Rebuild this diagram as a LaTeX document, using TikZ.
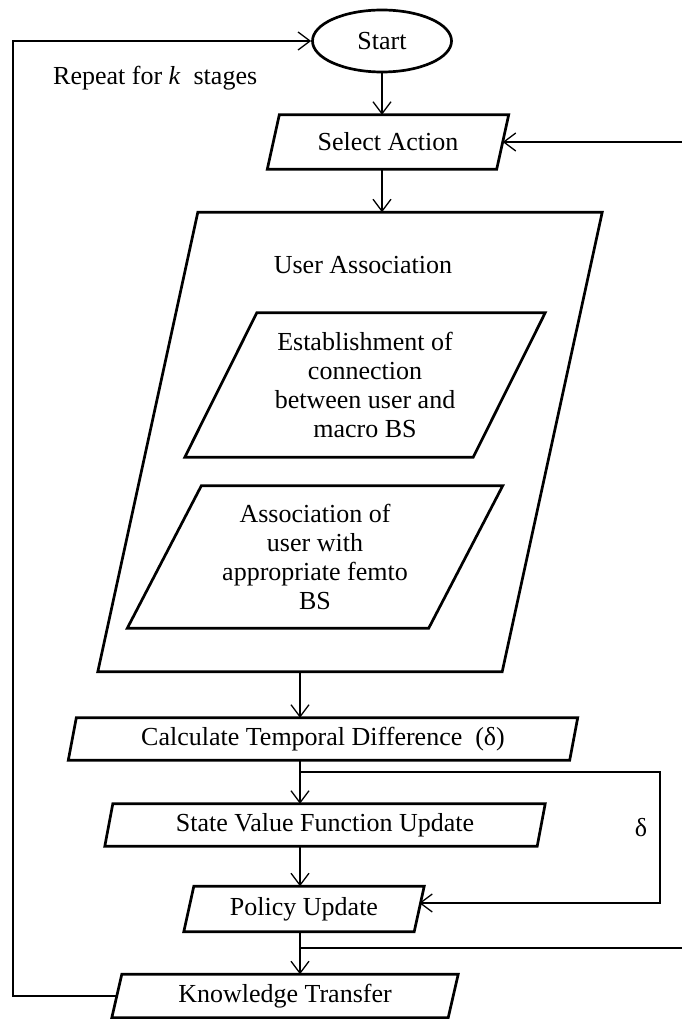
\documentclass[tikz,border=0pt]{standalone}
\usepackage{fontspec}
\setmainfont{Liberation Serif}
\usetikzlibrary{shapes.geometric,arrows.meta}

% parallelogram round a node: #1 half the slant, #2 the node
\newcommand{\drawpara}[2]{%
  \draw[boxline] ([xshift=#1]#2.north west) -- ([xshift=#1]#2.north east)
    -- ([xshift=-#1]#2.south east) -- ([xshift=-#1]#2.south west) -- cycle;}

\begin{document}
\begin{tikzpicture}[x=1pt, y=-1pt,
    lbl/.style={font=\fontsize{26}{29}\selectfont, inner sep=0pt, align=center},
    boxline/.style={line width=2.7pt},
    flowline/.style={line width=1.3pt, -{Straight Barb[length=12pt, width=18pt]}}]

  \useasboundingbox (0,0) rectangle (681,1019);

  \coordinate (axis) at (300,0);
  \coordinate (lft) at (13,0);
  \coordinate (rgt) at (700,0);
  \coordinate (loop) at (660,0);

  \node[lbl, draw, ellipse, boxline, minimum width=139pt, minimum height=62pt] (start) at (382,41) {Start};

  \node[lbl, minimum width=229pt, minimum height=54pt] (sel) at (388,142) {Select Action};
  \drawpara{6pt}{sel}

  % user association block
  \node[lbl, minimum width=404pt, minimum height=459pt] (ua) at (350,442) {};
  \drawpara{50pt}{ua}
  \node[lbl] (uatitle) at (363,265) {User Association};
  \node[lbl, minimum width=288pt, minimum height=144pt] (estab) at (365,385)
    {Establishment of\\connection\\between user and\\macro BS};
  \drawpara{36pt}{estab}
  \node[lbl, minimum width=301pt, minimum height=142pt] (assoc) at (315,557)
    {Association of\\user with\\appropriate femto\\BS};
  \drawpara{37pt}{assoc}

  \node[lbl, minimum width=501pt, minimum height=42pt] (calc) at (323,739) {Calculate Temporal Difference\ \ (δ)};
  \drawpara{4pt}{calc}
  \node[lbl, minimum width=432pt, minimum height=42pt] (svf) at (325,825) {State Value Function Update};
  \drawpara{4pt}{svf}
  \node[lbl, minimum width=230pt, minimum height=45pt] (pu) at (304,909) {Policy Update};
  \drawpara{5pt}{pu}
  \node[lbl, minimum width=336pt, minimum height=43pt] (kt) at (285,996) {Knowledge Transfer};
  \drawpara{5pt}{kt}

  \node[lbl, anchor=west] (repeat) at (53,78) {Repeat for \textit{k}\ \ stages};
  \node[lbl] (delta) at (641,828) {δ};

  \coordinate (fork1) at (300,772);
  \coordinate (fork2) at (300,948);
  \coordinate (puin) at ([yshift=6pt]pu.east);

  \draw[flowline] (start.south) -- (start.south |- sel.north); % start->select
  \draw[flowline] (start.south |- sel.south) -- (start.south |- ua.north); % select->ua
  \draw[flowline] (ua.south -| axis) -- (calc.north -| axis);
  \draw[flowline] (calc.south -| axis) -- (svf.north -| axis);
  \draw[flowline] (svf.south -| axis) -- (pu.north -| axis);
  \draw[flowline] (pu.south -| axis) -- (kt.north -| axis);

  \draw[flowline] (fork1) -- (fork1 -| loop) -- (puin -| loop) -- (puin); % delta loop
  \draw[flowline] (fork2) -- (fork2 -| rgt) -- (sel.east -| rgt) -- (sel.east); % back to select
  \draw[flowline] (kt.west) -- (kt.west -| lft) -- (start.west -| lft) -- (start.west); % k stages

\end{tikzpicture}
\end{document}
